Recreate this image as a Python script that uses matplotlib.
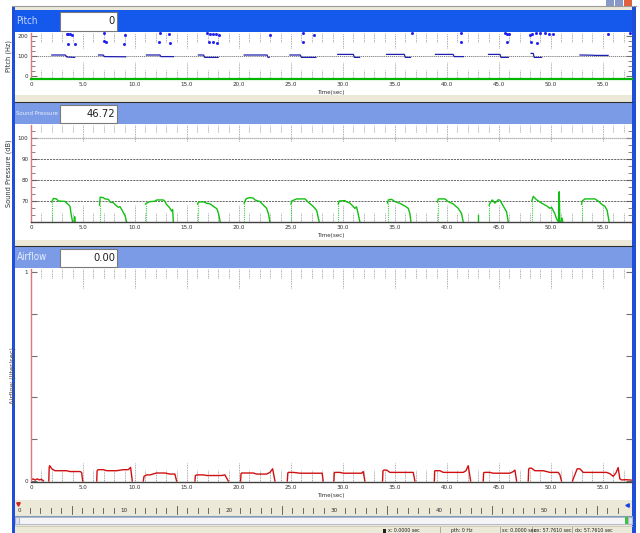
import matplotlib
matplotlib.use('Agg')
import matplotlib.pyplot as plt
from matplotlib.patches import Rectangle
from matplotlib.ticker import AutoMinorLocator

plt.rcParams['font.family'] = ['DejaVu Sans']
plt.rcParams['font.stretch'] = 'condensed'

# ---- data (time in sec) ----
time_ticks = [0, 5, 10, 15, 20, 25, 30, 35, 40, 45, 50, 55]
t_max = 57.8

# pitch (Hz): voiced stretches and stray points
pitch_seg_t = [
    [2.0, 3.3, 3.45, 4.2],
    [6.5, 6.95, 7.05, 9.1],
    [11.1, 12.4, 12.5, 13.7],
    [16.1, 16.6, 16.7, 18.0],
    [20.5, 22.7, 22.8, 22.9],
    [24.9, 25.9, 26.0, 27.4],
    [29.5, 31.0, 31.1, 31.6],
    [34.2, 35.9, 36.0, 36.5],
    [38.9, 40.6, 40.7, 41.6],
    [44.0, 45.1, 45.2, 45.9],
    [48.1, 48.3, 48.4, 49.1],
    [52.8, 54.0, 54.2, 55.5],
]
pitch_seg_hz = [
    [105, 105, 95, 93],
    [105, 105, 97, 96],
    [105, 105, 97, 97],
    [105, 105, 93, 93],
    [105, 105, 93, 93],
    [105, 105, 93, 93],
    [108, 108, 93, 93],
    [108, 108, 93, 93],
    [108, 108, 97, 97],
    [108, 108, 93, 93],
    [113, 113, 93, 93],
    [105, 104, 103, 103],
]
pitch_dot_t = [3.45, 3.6, 3.75, 3.9, 3.6, 4.2, 7.0, 7.0, 7.2, 9.0, 8.95,
               12.4, 13.3, 12.3, 13.4, 16.9, 17.2, 17.5, 17.8, 18.1, 17.1,
               17.5, 17.9, 23.0, 26.2, 27.2, 26.2, 36.6, 41.4, 41.4, 45.6,
               45.8, 46.0, 45.8, 48.0, 48.2, 48.6, 49.0, 49.4, 49.8, 50.2,
               48.1, 48.7, 55.5, 57.6]
pitch_dot_hz = [212, 210, 208, 205, 162, 160, 214, 173, 172, 207, 162,
                213, 210, 170, 166, 213, 212, 211, 208, 205, 170,
                168, 166, 207, 213, 205, 170, 213, 213, 170, 213,
                208, 210, 170, 205, 210, 213, 213, 213, 212, 210,
                168, 165, 211, 213]

# sound pressure (dB), one list per utterance
sp_t = [
    [2.0, 2.15, 2.45, 2.65, 3.25, 3.45, 3.6, 3.75, 3.85, 4.0],
    [4.15, 4.2, 4.25],
    [6.6, 6.65, 6.95, 7.12, 7.44, 7.6, 7.92, 8.08, 8.4, 8.56, 8.81, 9.04, 9.2],
    [11.02, 11.12, 11.44, 11.92, 12.08, 12.72, 12.88, 13.04, 13.3, 13.52, 13.62, 13.69],
    [16.03, 16.1, 16.59, 16.91, 17.24, 17.56, 17.88, 18.04, 18.2],
    [20.5, 20.67, 21.0, 21.38, 21.54, 22.02, 22.34, 22.66, 22.83, 22.98],
    [25.0, 25.07, 25.55, 26.35, 26.67, 27.15, 27.47, 27.72],
    [29.55, 29.65, 30.19, 30.35, 30.67, 30.99, 31.15, 31.31, 31.47, 31.63],
    [34.29, 34.36, 34.68, 35.0, 35.48, 35.96, 36.28, 36.44, 36.54],
    [39.1, 39.17, 39.81, 40.13, 40.61, 41.09, 41.41, 41.57],
    [43.0, 43.0],
    [44.07, 44.14, 44.36, 44.62, 44.94, 45.1, 45.42, 45.74, 45.9],
    [48.17, 48.3, 48.62, 49.1, 49.58, 49.9, 50.06, 50.38, 50.54, 50.73, 50.8, 50.86],
    [50.95, 51.05, 51.15],
    [52.95, 53.01, 53.27, 54.23, 54.55, 54.87, 55.19, 55.41, 55.6],
]
sp_db = [
    [69.5, 71.2, 71.0, 70.0, 69.8, 69.0, 68.3, 67.5, 64.0, 60.0],
    [60.0, 62.5, 60.0],
    [68.0, 71.8, 71.6, 71.0, 70.8, 69.5, 69.2, 68.3, 67.0, 67.3, 65.2, 63.0, 60.0],
    [68.5, 69.0, 69.7, 69.9, 70.5, 70.5, 69.8, 68.3, 67.0, 65.2, 66.0, 60.0],
    [68.5, 69.5, 69.6, 68.9, 68.6, 67.4, 66.3, 63.9, 60.0],
    [69.0, 71.0, 71.6, 71.4, 70.5, 69.7, 68.1, 66.5, 64.0, 60.0],
    [68.5, 70.0, 71.0, 71.0, 69.4, 67.4, 65.5, 60.0],
    [68.5, 70.0, 70.2, 69.6, 69.0, 67.4, 66.5, 67.2, 63.8, 60.0],
    [69.0, 70.5, 70.8, 69.7, 68.9, 67.6, 66.5, 64.0, 60.0],
    [69.5, 71.0, 71.0, 69.7, 68.6, 66.5, 64.0, 60.0],
    [60.0, 63.5],
    [68.0, 69.0, 70.5, 69.0, 70.6, 70.4, 67.6, 64.8, 60.0],
    [70.0, 72.2, 70.6, 69.0, 67.7, 66.5, 67.0, 64.0, 61.5, 60.0, 74.4, 60.0],
    [60.0, 62.0, 60.0],
    [68.5, 70.0, 71.0, 71.0, 70.0, 68.5, 67.5, 65.5, 60.0],
]

# airflow (liter/sec)
af_t = [
    [0.0, 0.2, 0.4, 0.6, 0.8, 1.0, 1.2],
    [1.71, 1.75, 1.8, 2.0, 2.31, 2.9, 3.43, 3.75, 4.71, 4.87, 4.97],
    [6.32, 6.36, 6.48, 6.96, 7.28, 8.24, 8.88, 9.36, 9.58, 9.74],
    [10.8, 10.87, 11.12, 11.44, 12.08, 12.88, 13.36, 13.84, 14.0],
    [15.77, 15.8, 15.93, 16.57, 16.89, 18.33, 18.65, 18.97],
    [20.16, 20.2, 20.26, 21.38, 21.7, 22.66, 22.98, 23.24, 23.46],
    [24.65, 24.7, 24.75, 25.23, 25.87, 27.79, 28.0, 28.1],
    [29.13, 29.17, 29.23, 29.71, 30.03, 31.79, 31.95, 32.11],
    [33.81, 33.85, 33.94, 34.2, 34.52, 36.76, 36.92],
    [38.79, 38.82, 38.85, 39.33, 39.65, 41.57, 41.83, 42.05, 42.28],
    [43.49, 43.53, 43.59, 44.13, 44.46, 46.06, 46.38, 46.54, 46.7],
    [47.82, 47.86, 47.92, 48.14, 48.46, 49.26, 49.9, 50.7, 50.86, 51.02],
    [52.08, 52.21, 52.53, 52.79, 53.11, 55.35, 55.67, 55.99, 56.25, 56.47,
     56.63, 56.8, 57.2, 57.76],
]
af_val = [
    [0.005, 0.01, 0.004, 0.01, 0.005, 0.008, 0.0],
    [0.0, 0.065, 0.073, 0.058, 0.049, 0.049, 0.049, 0.045, 0.045, 0.041, 0.0],
    [0.0, 0.05, 0.054, 0.054, 0.049, 0.049, 0.054, 0.054, 0.065, 0.0],
    [0.0, 0.022, 0.029, 0.029, 0.038, 0.038, 0.033, 0.033, 0.0],
    [0.0, 0.025, 0.029, 0.029, 0.026, 0.026, 0.029, 0.0],
    [0.0, 0.035, 0.038, 0.038, 0.033, 0.033, 0.041, 0.058, 0.0],
    [0.0, 0.038, 0.041, 0.041, 0.037, 0.037, 0.037, 0.0],
    [0.0, 0.038, 0.041, 0.041, 0.037, 0.037, 0.045, 0.0],
    [0.0, 0.048, 0.052, 0.052, 0.041, 0.041, 0.0],
    [0.0, 0.045, 0.049, 0.049, 0.041, 0.041, 0.049, 0.073, 0.0],
    [0.0, 0.038, 0.041, 0.041, 0.037, 0.037, 0.045, 0.052, 0.0],
    [0.0, 0.055, 0.061, 0.061, 0.049, 0.049, 0.041, 0.041, 0.03, 0.0],
    [0.0, 0.018, 0.058, 0.058, 0.041, 0.041, 0.035, 0.022, 0.038, 0.064,
     0.01, 0.005, 0.006, 0.004],
]

ruler_labels = [0, 10, 20, 30, 40, 50]
status_items = ['x: 0.0000 sec', 'pth: 0 Hz', 'sx: 0.0000 sec',
                'ex: 57.7610 sec', 'dx: 57.7610 sec']

# ---- window frame (pixel coords) ----
W, H = 640, 533


def box(x0, y0, x1, y1):
    return [x0 / W, 1 - y1 / H, (x1 - x0) / W, (y1 - y0) / H]


fig = plt.figure(figsize=(6.4, 5.33), dpi=100)
bg = fig.add_axes([0, 0, 1, 1])
bg.set_xlim(0, W)
bg.set_ylim(H, 0)
bg.axis('off')


def rect(x0, y0, x1, y1, fc, ec='none', lw=0):
    bg.add_patch(Rectangle((x0, y0), x1 - x0, y1 - y0, facecolor=fc,
                           edgecolor=ec, linewidth=lw))


rect(12, 6, 636, 10, '#ECE9D8')
bg.plot([12, 636], [6, 6], color='#9A9A9A', lw=0.8)
rect(606, 0, 614, 6, '#8898C8')
rect(615, 0, 623, 6, '#8898C8')
rect(624, 0, 632, 6, '#E06040')

rect(12, 6, 15, 533, '#1F4FD8')
rect(632, 6, 636, 533, '#1F4FD8')

headers = [(10, 32, 'Pitch', '0', '#1558EC', '#C8D8FF', 7),
           (103, 124, 'Sound Pressure', '46.72', '#7B9BE6', '#E8EEFF', 4.3),
           (247, 268, 'Airflow', '0.00', '#7B9BE6', '#E8EEFF', 7)]
for y0, y1, name, val, col, tcol, fs in headers:
    rect(15, y0, 632, y1, col)
    rect(60, y0 + 2, 117, y1 - 1, 'white', ec='#7A7A7A', lw=0.8)
    bg.text(16.5, (y0 + y1) / 2, name, color=tcol, fontsize=fs,
            va='center', ha='left')
    bg.text(115, (y0 + y1) / 2 + 0.5, val, color='#202020', fontsize=8,
            va='center', ha='right')

rect(15, 95, 632, 103, '#ECE9D8')
bg.plot([15, 632], [102.3, 102.3], color='#303030', lw=0.8)
rect(15, 240, 632, 247, '#ECE9D8')
bg.plot([15, 632], [246.3, 246.3], color='#303030', lw=0.8)

# bottom ruler, scrollbar and status bar
rect(15, 500, 632, 533, '#ECE9D8')
for s in range(0, 58):
    x = 19 + 10.5 * s
    if s in ruler_labels:
        bg.text(x, 511, str(s), fontsize=4.5, ha='center', va='center',
                color='#303030')
    elif s % 5 == 0:
        bg.plot([x, x], [506, 514], color='#505050', lw=0.6)
    else:
        bg.plot([x, x], [508, 513], color='#505050', lw=0.6)
bg.plot([18], [504], marker='v', ms=2.5, color='#D02020')
bg.plot([627], [505], marker='<', ms=2.5, color='#2040E0')
bg.plot([15, 632], [516, 516], color='#7F9DB9', lw=0.8)
rect(15, 517, 632, 524, '#F4F4F6', ec='#A8B0C8', lw=0.6)
rect(15, 517, 19, 524, '#DDE2EA', ec='#A8B0C8', lw=0.6)
rect(624.5, 517, 627.5, 524, '#40C040')
rect(628, 517, 632, 524, '#DDE2EA', ec='#A8B0C8', lw=0.6)
bg.plot([15, 632], [526, 526], color='#C8C4B4', lw=0.6)
rect(383, 528.5, 386, 533, '#202020')
for x, txt in zip([388, 451, 502, 534, 575], status_items):
    bg.text(x, 527.8, txt, fontsize=3.8, va='top', ha='left', color='#202020')
for x in [440, 500, 532, 572]:
    bg.plot([x, x], [527, 533], color='#A09C90', lw=0.6)

# ---- the three plots ----
tick_col = '#303030'


def setup(ax, ylo, yhi, height_px, top_len, bottom_len, bottom_col, bottom_lw):
    ax.set_xlim(0, t_max)
    ax.set_ylim(ylo, yhi)
    for side in ['top', 'right']:
        ax.spines[side].set_visible(False)
    ax.spines['left'].set_color('#E07878')
    ax.spines['left'].set_linewidth(1.0)
    ax.spines['bottom'].set_color(bottom_col)
    ax.spines['bottom'].set_linewidth(bottom_lw)
    ax.set_xticks(time_ticks)
    ax.set_xticklabels(['0' if v == 0 else '%.1f' % v for v in time_ticks])
    ax.tick_params(axis='x', length=0, labelsize=4.5, pad=2.5,
                   labelcolor=tick_col)
    ax.tick_params(axis='y', which='both', direction='in', left=True,
                   right=True, color='#707070', labelsize=4.5, pad=2,
                   labelcolor=tick_col)
    ax.tick_params(axis='y', which='major', length=4)
    ax.tick_params(axis='y', which='minor', length=3)
    ax.set_xlabel('Time(sec)', fontsize=4.5, labelpad=1.5, color=tick_col)
    # dotted second marks along the top and bottom edges
    tr = ax.get_xaxis_transform()
    for s in range(1, 58):
        k = 1 if s % 5 else 2
        ax.vlines(s, 1 - top_len[k - 1] / height_px, 1, transform=tr,
                  colors='#909090', linestyles=(0, (1, 1)), lw=0.6)
        ax.vlines(s, 0, bottom_len[k - 1] / height_px, transform=tr,
                  colors='#909090', linestyles=(0, (1, 1)), lw=0.6)


# Pitch
ax1 = fig.add_axes(box(31, 33, 632, 79))
setup(ax1, -15, 215, 46, (9, 15), (9, 17), '#00B400', 1.6)
ax1.set_yticks([0, 100, 200])
ax1.yaxis.set_minor_locator(AutoMinorLocator(4))
ax1.axhline(100, color='#707070', lw=0.6, ls=(0, (1.5, 1)))
for t, hz in zip(pitch_seg_t, pitch_seg_hz):
    ax1.plot(t, hz, color='#2020B0', lw=0.9)
ax1.plot(pitch_dot_t, pitch_dot_hz, ls='none', marker='s', ms=1.0,
         color='#1A1AF0', clip_on=False)
ax1.set_ylabel('Pitch (Hz)', fontstretch='normal', fontsize=4.8,
               labelpad=4, color=tick_col)

# Sound pressure
ax2 = fig.add_axes(box(31, 125, 632, 222))
setup(ax2, 60, 106.2, 97, (7, 16), (9, 17), '#404040', 1.0)
ax2.set_yticks([70, 80, 90, 100])
ax2.yaxis.set_minor_locator(AutoMinorLocator(3))
ax2.axhline(100, color='#A0A0A0', lw=0.9, ls=(0, (1, 0.6)))
for lvl in [70, 80, 90]:
    ax2.axhline(lvl, color='#505050', lw=0.6, ls=(0, (2.5, 1.2)))
for t, db in zip(sp_t, sp_db):
    ax2.plot(t, db, color='#10C010', lw=1.0)
ax2.vlines([t[0] for t in sp_t], 60, [d[0] for d in sp_db],
           colors='#40D040', linestyles=(0, (1, 1)), lw=0.8)
ax2.set_ylabel('Sound Pressure (dB)', fontstretch='normal', fontsize=4.8,
               labelpad=4, color=tick_col)

# Airflow
ax3 = fig.add_axes(box(31, 269, 632, 482))
setup(ax3, -0.005, 1.014, 213, (9, 19), (12, 19), '#404040', 1.0)
ax3.set_yticks([0, 0.2, 0.4, 0.6, 0.8, 1.0])
ax3.set_yticklabels(['0', '', '', '', '', '1'])
for t, v in zip(af_t, af_val):
    ax3.plot(t, v, color='#D01010', lw=1.0)
ax3.set_ylabel('Airflow (liter/sec)', fontstretch='normal', fontsize=4.8,
               labelpad=6, color='#505050')

fig.savefig('out.png', dpi=100)
